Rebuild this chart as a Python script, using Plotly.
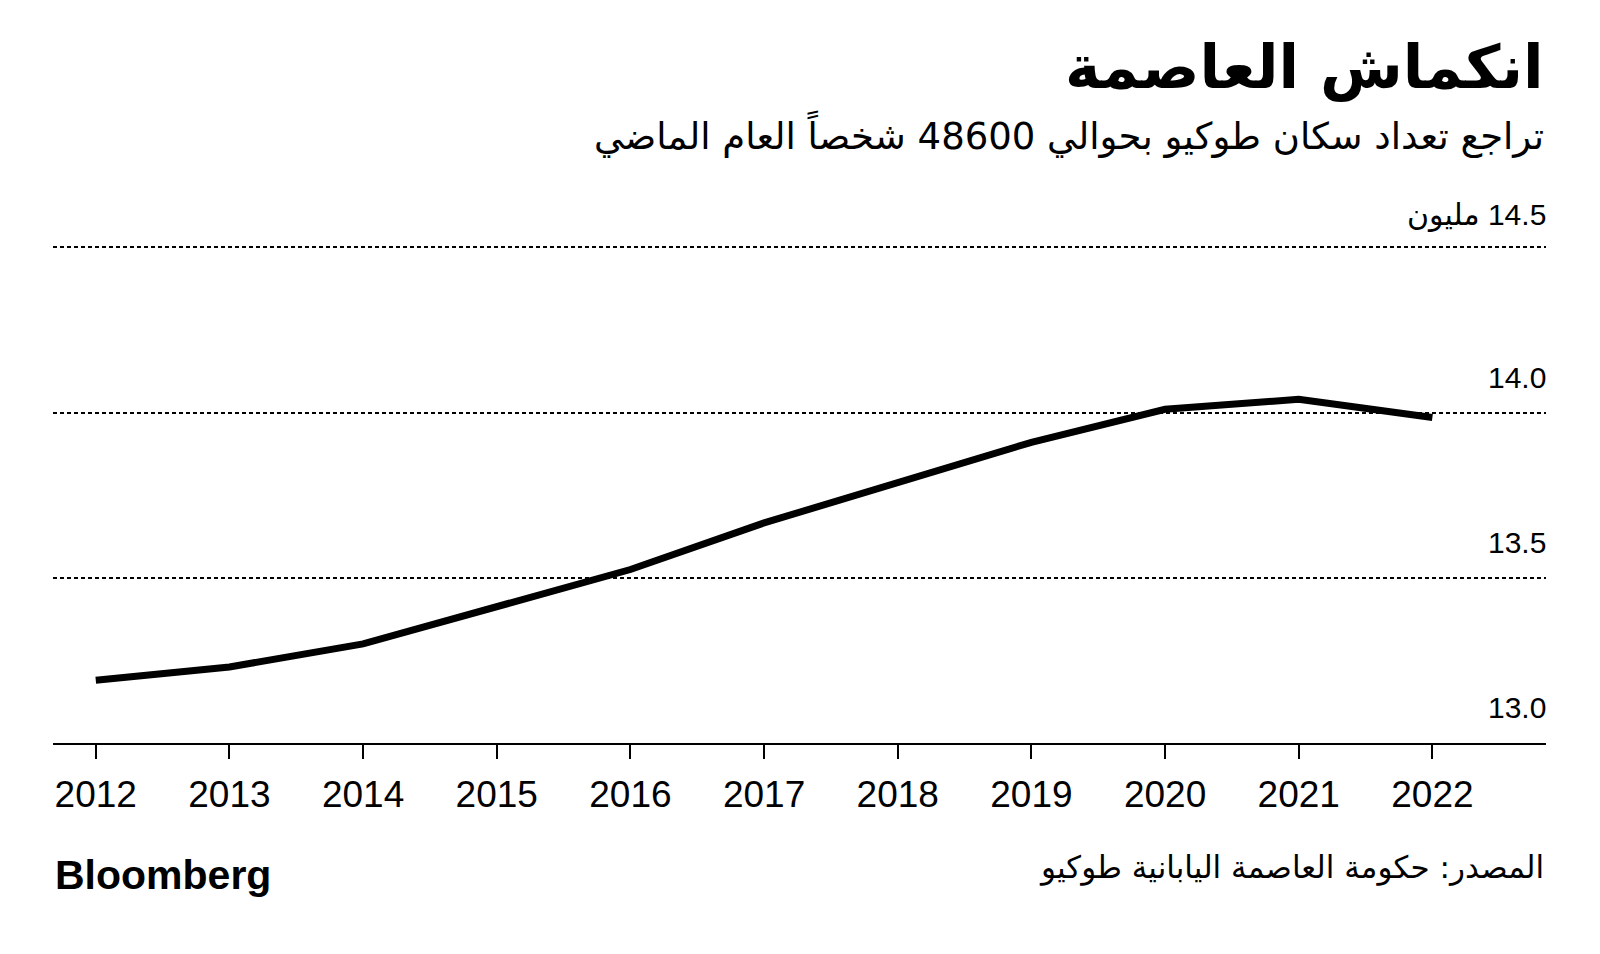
import plotly.graph_objects as go

years = [2012, 2013, 2014, 2015, 2016, 2017, 2018, 2019, 2020, 2021, 2022]
population_millions = [13.19, 13.23, 13.30, 13.41, 13.525, 13.666, 13.79, 13.91, 14.01, 14.04, 13.985]
y_tickvals = [13.0, 13.5, 14.0, 14.5]
y_ticktext = ["13.0", "13.5", "14.0", "\u200f14.5 مليون"]

title_text = "انكماش العاصمة"
subtitle_text = "تراجع تعداد سكان طوكيو بحوالي 48600 شخصاً العام الماضي"
source_text = "المصدر: حكومة العاصمة اليابانية طوكيو"

# page body has an 8px default margin; figure occupies page x 8..1600, y 8..954
OFF = 8
W, H = 1600 - OFF, 954 - OFF
Y_MIN, Y_MAX = 13.0, 14.51
px_per_unit = (743 - 247) / 1.5
top_pix = 247 - (Y_MAX - 14.5) * px_per_unit   # page pixel of plot top
L = 53 - OFF
R = 1600 - 1546
T = round(top_pix - OFF)
B = 954 - 743
ph = H - T - B

def py(page_pix):
    return (954 - B - page_pix) / ph

fig = go.Figure()
fig.add_trace(go.Scatter(
    x=years, y=population_millions, mode="lines",
    line=dict(color="#000000", width=7),
    hoverinfo="skip", showlegend=False,
))

annotations = [
    dict(text="<b>" + title_text + "</b>", xref="paper", yref="paper",
         x=1, y=py(67), xanchor="right", yanchor="middle", showarrow=False,
         font=dict(size=60, family="DejaVu Sans", color="#000000")),
    dict(text=subtitle_text, xref="paper", yref="paper",
         x=1, y=py(134), xanchor="right", yanchor="middle", showarrow=False,
         font=dict(size=37, family="DejaVu Sans", color="#000000")),
    dict(text=source_text, xref="paper", yref="paper",
         x=1, y=py(867), xanchor="right", yanchor="middle", showarrow=False,
         font=dict(size=31, family="DejaVu Sans", color="#000000")),
    dict(text="<b>Bloomberg</b>", xref="paper", yref="paper",
         x=0, y=py(875), xanchor="left", yanchor="middle", showarrow=False,
         font=dict(size=41, family="Liberation Sans, Arial, sans-serif", color="#000000")),
]
for v, t in zip(y_tickvals, y_ticktext):
    shift = 13 if "\u200f" in t else 17
    annotations.append(dict(
        text=t, xref="paper", yref="y", x=1, y=v,
        xanchor="right", yanchor="bottom", yshift=shift, xshift=2, showarrow=False,
        font=dict(size=30, family="Liberation Sans, DejaVu Sans, sans-serif", color="#000000"),
    ))

fig.update_layout(
    width=W, height=H,
    margin=dict(l=L, r=R, t=T, b=B, autoexpand=False),
    paper_bgcolor="white", plot_bgcolor="white",
    font=dict(family="Liberation Sans, Arial, sans-serif", color="#000000"),
    xaxis=dict(
        range=[2011.68, 2022.85], tickvals=years,
        ticktext=[str(y) for y in years],
        showgrid=False, zeroline=False, automargin=False,
        showline=True, linecolor="#000000", linewidth=2,
        ticks="outside", ticklen=14, tickwidth=2, tickcolor="#000000",
        tickfont=dict(size=37, color="#000000", family="Liberation Sans, Arial, sans-serif"),
        ticklabelstandoff=4,
    ),
    yaxis=dict(
        range=[Y_MIN, Y_MAX], side="right",
        tickvals=y_tickvals, showticklabels=False, automargin=False,
        showgrid=True, gridcolor="#000000", gridwidth=2, griddash="4px,3px",
        zeroline=False, showline=False, ticks="",
    ),
    annotations=annotations,
)

fig.write_html("out.html")
